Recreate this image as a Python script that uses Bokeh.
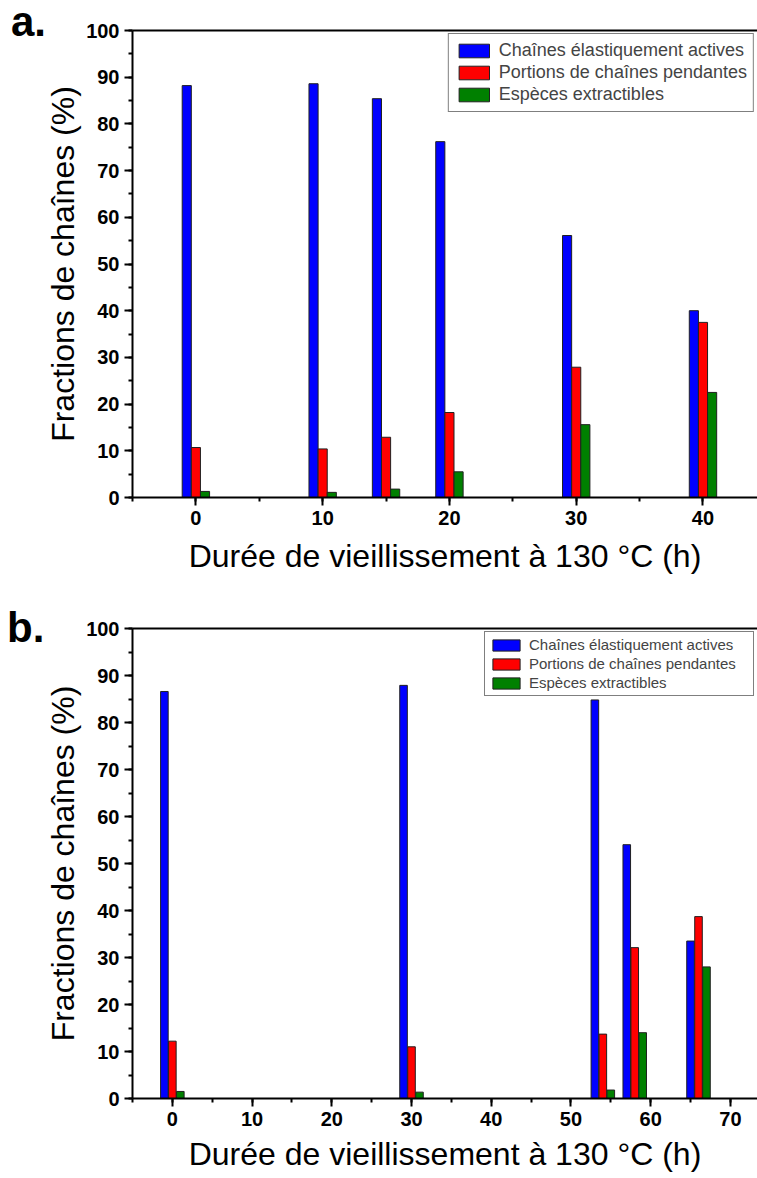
from bokeh.plotting import figure
from bokeh.models import (Range1d, LinearAxis, SingleIntervalTicker, FixedTicker,
                          Legend, LegendItem, ColumnDataSource, Div, GridBox)
from bokeh.transform import dodge
from bokeh.embed import file_html
from bokeh.resources import INLINE

# ---- data ----
series_names = ["Chaînes élastiquement actives", "Portions de chaînes pendantes", "Espèces extractibles"]
series_colors = ["#0000FF", "#FF0000", "#008000"]

times_a = [0, 10, 15, 20, 30, 40]
active_a = [88.2, 88.6, 85.4, 76.2, 56.1, 40.0]
pendant_a = [10.7, 10.4, 12.9, 18.2, 27.9, 37.5]
extract_a = [1.3, 1.1, 1.8, 5.5, 15.6, 22.5]

times_b = [0, 30, 54, 58, 66]
active_b = [86.6, 87.9, 84.8, 54.0, 33.5]
pendant_b = [12.2, 11.0, 13.7, 32.1, 38.7]
extract_b = [1.5, 1.35, 1.8, 14.0, 28.0]

panel_tags = ["a.", "b."]
x_label = "Durée de vieillissement à 130 °C (h)"
y_label = "Fractions de chaînes (%)"

FONT = "Liberation Sans"


def make_panel(times, act, pen, ext, x_end, bar_step, bar_w, height,
               b_left, b_top, b_bottom, leg_font, glyph_w, glyph_h, leg_pad, leg_spacing,
               leg_label_w, x_lab_standoff):
    p = figure(width=757, height=height, x_range=Range1d(-5, x_end), y_range=Range1d(0, 100),
               output_backend="svg", toolbar_location=None,
               min_border_left=b_left, min_border_right=0, min_border_top=b_top,
               min_border_bottom=b_bottom)
    p.grid.visible = False
    p.outline_line_color = None
    p.background_fill_color = "white"
    p.border_fill_color = "white"

    src = ColumnDataSource(dict(t=times, a=act, p=pen, e=ext))
    renderers = []
    for col, off, color in zip(["a", "p", "e"], [-bar_step, 0, bar_step], series_colors):
        r = p.vbar(x=dodge("t", off, range=p.x_range), top=col, width=bar_w, bottom=0,
                   source=src, fill_color=color, line_color="#202020", line_width=1)
        renderers.append(r)

    for ax in (p.xaxis[0], p.yaxis[0]):
        ax.ticker = SingleIntervalTicker(interval=10, num_minor_ticks=2)
        ax.axis_line_width = 2
        ax.major_tick_line_width = 2
        ax.minor_tick_line_width = 2
        ax.major_tick_out = 8
        ax.major_tick_in = 0
        ax.minor_tick_out = 4
        ax.minor_tick_in = 0
        ax.major_label_text_font = FONT
        ax.major_label_text_font_style = "bold"
        ax.major_label_text_font_size = "20px"
        ax.major_label_text_color = "black"
        ax.major_label_standoff = 5
        ax.axis_label_text_font = FONT
        ax.axis_label_text_font_style = "normal"
        ax.axis_label_text_font_size = "32px"
        ax.axis_label_text_color = "black"
    p.xaxis[0].axis_label = x_label
    p.yaxis[0].axis_label = y_label
    p.xaxis[0].axis_label_standoff = x_lab_standoff
    p.yaxis[0].axis_label_standoff = 2

    top = LinearAxis(ticker=FixedTicker(ticks=[]), axis_line_width=2,
                     major_tick_out=0, major_tick_in=0, minor_tick_out=0, minor_tick_in=0,
                     major_label_text_font_size="0px")
    p.add_layout(top, "above")

    legend = Legend(items=[LegendItem(label=n, renderers=[r]) for n, r in zip(series_names, renderers)],
                    location="top_right", margin=3, padding=leg_pad, spacing=leg_spacing,
                    glyph_width=glyph_w, glyph_height=glyph_h, label_standoff=6,
                    label_text_font=FONT, label_text_font_size=leg_font,
                    label_height=glyph_h, label_width=leg_label_w,
                    border_line_color="black", border_line_width=1.5,
                    background_fill_color="white", background_fill_alpha=1)
    p.add_layout(legend)
    return p


def make_tag(text, pad_left, pad_top):
    html = ('<div style="font-family:\'%s\';font-weight:bold;font-size:42px;line-height:42px;'
            'color:black;padding-left:%dpx;padding-top:%dpx;white-space:nowrap;">%s</div>'
            % (FONT, pad_left, pad_top, text))
    return Div(text=html, width=70, height=70, align="start",
               styles={"margin": "0", "padding": "0"})


pa = make_panel(times_a, active_a, pendant_a, extract_a, 44.3, 0.72, 0.72, 588,
                132, 30, 91, "18px", 38, 17, 6, 1, 20, 10)
pb = make_panel(times_b, active_b, pendant_b, extract_b, 73.4, 1.0, 0.95, 590,
                130, 40, 80, "15px", 34, 14, 4, 2, 220, 7)

tag_a = make_tag(panel_tags[0], 11, 1)
tag_b = make_tag(panel_tags[1], 7, 19)

layout = GridBox(children=[(pa, 0, 0), (tag_a, 0, 0), (pb, 1, 0), (tag_b, 1, 0)], spacing=0)
open("out.html", "w").write(file_html(layout, INLINE))
